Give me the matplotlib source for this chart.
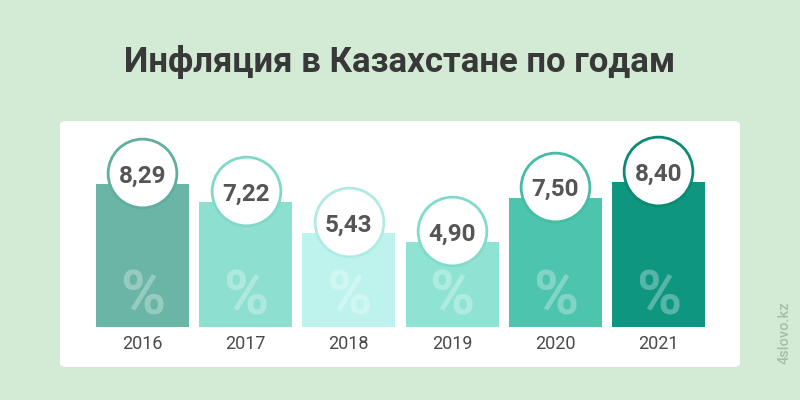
import matplotlib
matplotlib.use("Agg")
import matplotlib.pyplot as plt
from matplotlib.patches import FancyBboxPatch
from matplotlib.transforms import offset_copy

years = ["2016", "2017", "2018", "2019", "2020", "2021"]
values = [8.29, 7.22, 5.43, 4.90, 7.50, 8.40]
value_labels = ["8,29", "7,22", "5,43", "4,90", "7,50", "8,40"]
title = "Инфляция в Казахстане по годам"
watermark = "4slovo.kz"

bar_colors = ["#6ab5a5", "#8de0d0", "#bdf3ec", "#8fe3d3", "#4dc4ad", "#0e9680"]
edge_colors = ["#5fae9e", "#80d8c8", "#b0ebe3", "#82dacb", "#45bca5", "#0d8a75"]

plt.rcParams['font.family'] = ['Roboto', 'DejaVu Sans']

W, H = 800, 400
fig = plt.figure(figsize=(8, 4), dpi=100)
fig.patch.set_facecolor("#d3ebd5")

# white panel (figure pixel coords)
panel = FancyBboxPatch((60 / W, (H - 367) / H), 680 / W, 246 / H,
                       boxstyle="round,pad=0,rounding_size=0.008",
                       transform=fig.transFigure, facecolor="white",
                       edgecolor="none", zorder=0)
fig.patches.append(panel)

ax = fig.add_axes([60 / W, (H - 367) / H, 680 / W, 246 / H])
ax.set_zorder(2)
ax.set_facecolor("none")
ax.set_xlim(-0.799, 5.790)
ax.set_ylim(-2.319, 11.942)
ax.axis("off")

x = list(range(len(years)))
ax.bar(x, values, width=0.9, color=bar_colors, zorder=2)

circ_tr = offset_copy(ax.transData, fig=fig, x=0, y=11, units='dots')
for i, v in enumerate(values):
    ax.scatter([i], [v], s=2450, marker='o', facecolor='white',
               edgecolor=edge_colors[i], linewidth=2.0, zorder=3,
               transform=circ_tr, clip_on=False)

txt_tr = offset_copy(ax.transData, fig=fig, x=0, y=1.5, units='dots')
for i, v in enumerate(values):
    ax.text(i, v, value_labels[i], transform=txt_tr, ha='center', va='baseline',
            fontsize=17.5, fontweight='bold', color='#555555', zorder=4)

pct_tr = offset_copy(ax.transData, fig=fig, x=0, y=12, units='dots')
yr_tr = offset_copy(ax.transData, fig=fig, x=0, y=-22, units='dots')
for i, yr in enumerate(years):
    ax.text(i, 0, "%", transform=pct_tr, ha='center', va='baseline',
            fontsize=44, fontweight='bold', color='white', alpha=0.3, zorder=3)
    ax.text(i, 0, yr, transform=yr_tr, ha='center', va='baseline',
            fontsize=13, color='#4a4a4a', zorder=3)

fig.text(400 / W, (H - 72) / H, title, ha='center', va='baseline',
         fontsize=25, fontweight='bold', color='#383838')
fig.text(785 / W, (H - 333) / H, watermark, ha='center', va='center',
         rotation=90, fontsize=10.5, fontweight='medium', color='#a9bcad')

fig.savefig("out.png", dpi=100, facecolor=fig.get_facecolor())
